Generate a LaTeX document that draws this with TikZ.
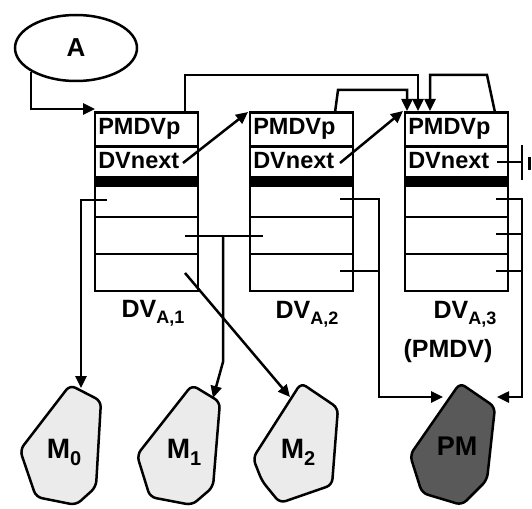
\documentclass[tikz,border=0pt]{standalone}
\usepackage{fontspec}
\setmainfont{Liberation Sans}
\usetikzlibrary{arrows.meta,shapes.geometric,calc}
\begin{document}
\begin{tikzpicture}[x=1pt,y=-1pt,line width=2.5pt,
  arw/.style={-{Triangle[length=12pt,width=11pt]}},
  cell/.style={draw,minimum width=103pt,inner sep=0pt},
  celltext/.style={anchor=base west,inner sep=0pt,font=\fontsize{23.5}{23.5}\selectfont\bfseries},
  barcell/.style={draw,fill=black,minimum width=103pt,minimum height=9pt,inner sep=0pt},
  lbl/.style={anchor=base,inner sep=0pt,font=\fontsize{25}{25}\selectfont\bfseries},
  mlbl/.style={anchor=base,inner sep=0pt,font=\fontsize{28}{28}\selectfont\bfseries},
  blob/.style={draw,rounded corners=6pt,fill=black!8},
  darkblob/.style={draw,rounded corners=6pt,fill=black!65}]
\useasboundingbox (0,0) rectangle (532,508);

% ellipse A
\node[draw,ellipse,minimum width=122pt,minimum height=66pt,inner sep=0pt,
  font=\fontsize{26}{26}\selectfont\bfseries] (A) at (76,48) {A};

% three descriptor vectors
\foreach \i/\L in {1/95,2/250,3/405}{
  \node[cell,minimum height=34pt] (b\i p) at (\L+51.5,129.5) {};
  \node[cell,minimum height=31pt] (b\i n) at (\L+51.5,162) {};
  \node[celltext] (b\i pt) at (\L+2,134) {PMDVp};
  \node[celltext] (b\i nt) at (\L+2,168) {DVnext};
  \node[barcell] (b\i b) at (\L+51.5,181.5) {};
  \node[cell,minimum height=31pt] (b\i s1) at (\L+51.5,201.5) {};
  \node[cell,minimum height=37pt] (b\i s2) at (\L+51.5,235.5) {};
  \node[cell,minimum height=37pt] (b\i s3) at (\L+51.5,272.5) {};
}

% labels
\node[lbl] (l1) at (153,317) {DV\raisebox{-6pt}{\fontsize{18}{18}\selectfont A,1}};
\node[lbl] (l2) at (307,318) {DV\raisebox{-6pt}{\fontsize{18}{18}\selectfont A,2}};
\node[lbl] (l3) at (465,318) {DV\raisebox{-6pt}{\fontsize{18}{18}\selectfont A,3}};
\node[lbl] (l4) at (448,357) {(PMDV)};

% memory blobs
\draw[blob] (70,385) -- (101,401) -- (96,487) -- (76,505) -- (36,497) -- (20,450) -- cycle;
\draw[blob] (192,385) -- (220,402) -- (213,487) -- (192,505) -- (150,497) -- (137,455) -- cycle;
\draw[blob] (301,383) -- (338,408) -- (332,485) -- (280,503) -- (262,481) -- (253,458) -- cycle;
\draw[darkblob] (460,383) -- (495,407) -- (487,480) -- (462,505) -- (422,493) -- (410,455) -- cycle;
\node[mlbl] (m0) at (64,458) {M\raisebox{-7pt}{\fontsize{20}{20}\selectfont 0}};
\node[mlbl] (m1) at (184,458) {M\raisebox{-7pt}{\fontsize{20}{20}\selectfont 1}};
\node[mlbl] (m2) at (298,458) {M\raisebox{-7pt}{\fontsize{20}{20}\selectfont 2}};
\node[mlbl,font=\fontsize{27}{27}\selectfont\bfseries] (pm) at (457,455) {PM};

% connector end points
\coordinate (a1) at (95,109);
\coordinate (t1a) at (185,112.5); \coordinate (t1c) at (418,75); \coordinate (t1d) at (418,111);
\coordinate (t2a) at (335,112.5); \coordinate (t2b) at (338,90); \coordinate (t2c) at (407,90); \coordinate (t2d) at (407,111);
\coordinate (t3a) at (495,112.5); \coordinate (t3b) at (487,75); \coordinate (t3c) at (430,75); \coordinate (t3d) at (430,111);
\coordinate (n1) at (183,163); \coordinate (n1t) at (248,112);
\coordinate (n2) at (340,163); \coordinate (n2t) at (403,111);
\coordinate (n3) at (497,162); \coordinate (n3e) at (522,162);
\coordinate (g1) at (522,145); \coordinate (g2) at (522,180);
\coordinate (g3) at (529.5,157); \coordinate (g4) at (529.5,170);
\coordinate (s11) at (107,200); \coordinate (m0t) at (81,388);
\coordinate (s12) at (185,236); \coordinate (s22) at (263,236);
\coordinate (j1) at (223,236); \coordinate (j2) at (223,362); \coordinate (m1t) at (213,398);
\coordinate (s13) at (185,273); \coordinate (m2t) at (290,397);
\coordinate (s21) at (340,199); \coordinate (v21) at (379,199);
\coordinate (s23) at (340,271); \coordinate (v23) at (379,271);
\coordinate (pml) at (443,397);
\coordinate (s31) at (496,199); \coordinate (v31) at (522,199);
\coordinate (s32) at (496,234); \coordinate (v32) at (522,234);
\coordinate (s33) at (496,271); \coordinate (v33) at (522,271);
\coordinate (pmr) at (497,397);

% connectors
\draw[arw] (A.208) |- (a1);
\draw[arw] (t1a) |- (t1c) -- (t1d);
\draw[arw] (t2a) -- (t2b) -- (t2c) -- (t2d);
\draw[arw] (t3a) -- (t3b) -- (t3c) -- (t3d);
\draw[arw] (n1) -- (n1t);
\draw[arw] (n2) -- (n2t);
\draw (n3) -- (n3e);
\draw (g1) -- (g2);
\draw (g3) -- (g4);
\draw[arw] (s11) -| (m0t);
\draw (s12) -- (s22);
\draw[arw] (j1) -- (j2) -- (m1t);
\draw[arw] (s13) -- (m2t);
\draw[arw] (s21) -- (v21) |- (pml);
\draw (s23) -- (v23);
\draw[arw] (s31) -- (v31) |- (pmr);
\draw (s32) -- (v32);
\draw (s33) -- (v33);
\end{tikzpicture}
\end{document}
